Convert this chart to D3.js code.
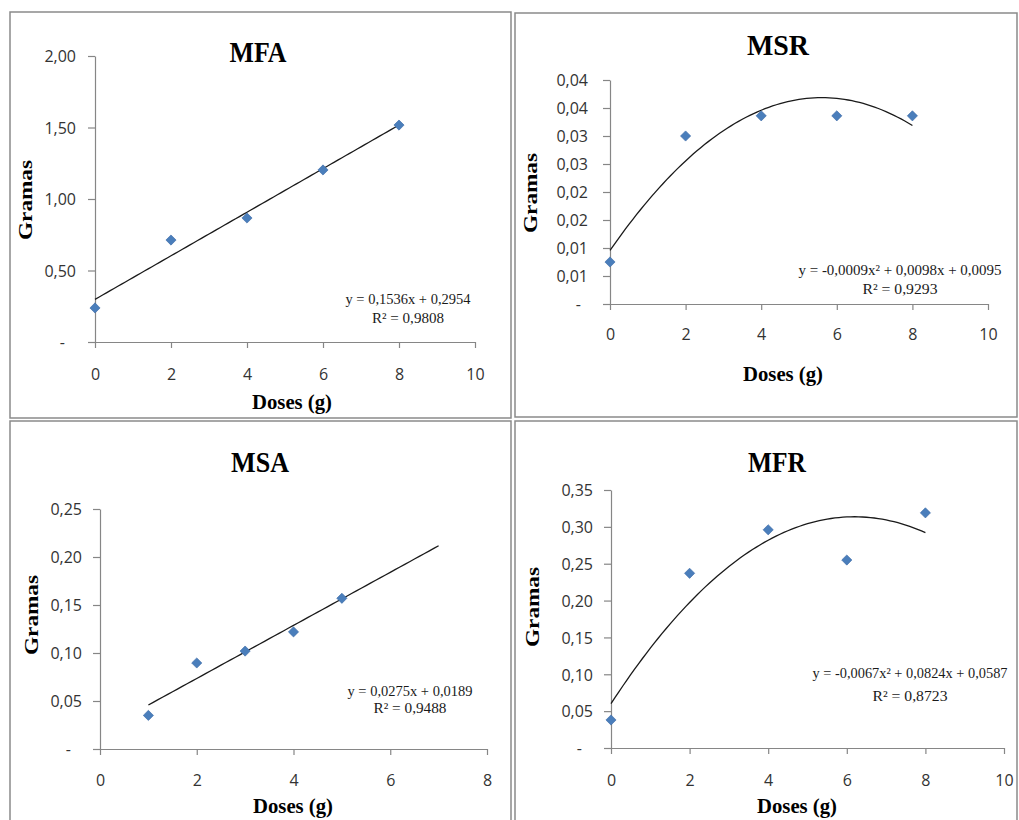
<!DOCTYPE html>
<html>
<head>
<meta charset="utf-8">
<script src="https://cdn.jsdelivr.net/npm/d3@7"></script>
<style>
body{margin:0;background:#fff;}
svg{display:block;}
</style>
</head>
<body>
<div class="graphContainer"></div>
<script>
const w = 1019;
const h = 820;

// data
const doses = [0, 2, 4, 6, 8];
const dosesMSA = [1, 2, 3, 4, 5];

const mfaValues = [0.238, 0.713, 0.867, 1.203, 1.517];
const msrValues = [0.0075, 0.030, 0.0336, 0.0336, 0.0336];
const msaValues = [0.035, 0.0896, 0.102, 0.122, 0.157];
const mfrValues = [0.038, 0.237, 0.296, 0.255, 0.319];

const xTicks10 = [0, 2, 4, 6, 8, 10];
const xTicks8 = [0, 2, 4, 6, 8];

const mfaYTicks = [0, 0.5, 1, 1.5, 2];
const mfaYLabels = ["-", "0,50", "1,00", "1,50", "2,00"];
const msrYTicks = [0, 0.005, 0.01, 0.015, 0.02, 0.025, 0.03, 0.035, 0.04];
const msrYLabels = ["-", "0,01", "0,01", "0,02", "0,02", "0,03", "0,03", "0,04", "0,04"];
const msaYTicks = [0, 0.05, 0.1, 0.15, 0.2, 0.25];
const msaYLabels = ["-", "0,05", "0,10", "0,15", "0,20", "0,25"];
const mfrYTicks = [0, 0.05, 0.1, 0.15, 0.2, 0.25, 0.3, 0.35];
const mfrYLabels = ["-", "0,05", "0,10", "0,15", "0,20", "0,25", "0,30", "0,35"];

const mfaEquation = ["y = 0,1536x + 0,2954", "R² = 0,9808"];
const msrEquation = ["y = -0,0009x² + 0,0098x + 0,0095", "R² = 0,9293"];
const msaEquation = ["y = 0,0275x + 0,0189", "R² = 0,9488"];
const mfrEquation = ["y = -0,0067x² + 0,0824x + 0,0587", "R² = 0,8723"];

const titles = ["MFA", "MSR", "MSA", "MFR"];

// panels: data + where each one sits on the page
const panels = [
	{title: titles[0], xs: doses, ys: mfaValues, deg: 1, trend: [0, 8],
	 xDom: [0, 10], xTicks: xTicks10, yDom: [0, 2], yTicks: mfaYTicks, yLabels: mfaYLabels, eq: mfaEquation,
	 box: [10, 12, 501, 406], xr: [95, 475], yr: [342, 56], titleAt: [258, 62, 57],
	 ylab: [26, 200], xlab: [292, 409], xTickBase: 380, yLabOff: 19, dashOff: 11,
	 eqAt: [408, 304, 323], eqW: [125, 72]},
	{title: titles[1], xs: doses, ys: msrValues, deg: 2, trend: [0, 8],
	 xDom: [0, 10], xTicks: xTicks10, yDom: [0, 0.04], yTicks: msrYTicks, yLabels: msrYLabels, eq: msrEquation,
	 box: [515, 13, 502, 404], xr: [610, 988], yr: [304, 80], titleAt: [778, 55, 62],
	 ylab: [531, 193], xlab: [783, 381], xTickBase: 340, yLabOff: 22, dashOff: 7,
	 eqAt: [900, 275, 294], eqW: [203, 75]},
	{title: titles[2], xs: dosesMSA, ys: msaValues, deg: 1, trend: [1, 7],
	 xDom: [0, 8], xTicks: xTicks8, yDom: [0, 0.25], yTicks: msaYTicks, yLabels: msaYLabels, eq: msaEquation,
	 box: [10, 421, 501, 410], xr: [100, 487], yr: [749, 509], titleAt: [260, 472, 58],
	 ylab: [32, 615], xlab: [293, 813], xTickBase: 786, yLabOff: 18, dashOff: 11,
	 eqAt: [410, 696, 713], eqW: [125, 73]},
	{title: titles[3], xs: doses, ys: mfrValues, deg: 2, trend: [0, 8],
	 xDom: [0, 10], xTicks: xTicks10, yDom: [0, 0.35], yTicks: mfrYTicks, yLabels: mfrYLabels, eq: mfrEquation,
	 box: [515, 421, 502, 410], xr: [611, 1004], yr: [748, 490], titleAt: [777, 472, 58],
	 ylab: [533, 607], xlab: [797, 813], xTickBase: 786, yLabOff: 18, dashOff: 11,
	 eqAt: [910, 678, 701], eqW: [195, 75]}
];

//least squares polynomial fit (what the excel trendline does)
function polyFit(xs, ys, deg) {
	const n = deg + 1;
	const A = [];
	for (let r = 0; r < n; r++) {
		A.push([]);
		for (let c = 0; c < n; c++) A[r].push(d3.sum(xs, x => Math.pow(x, r + c)));
		A[r].push(d3.sum(xs, (x, i) => Math.pow(x, r) * ys[i]));
	}
	for (let i = 0; i < n; i++) {
		for (let k = i + 1; k < n; k++) {
			const f = A[k][i] / A[i][i];
			for (let j = i; j <= n; j++) A[k][j] -= f * A[i][j];
		}
	}
	const coef = new Array(n).fill(0);
	for (let i = n - 1; i >= 0; i--) {
		let s = A[i][n];
		for (let j = i + 1; j < n; j++) s -= A[i][j] * coef[j];
		coef[i] = s / A[i][i];
	}
	return x => d3.sum(coef, (c, i) => c * Math.pow(x, i));
}

const svg = d3.select(".graphContainer").append("svg")
				.attr("width", w)
				.attr("height", h)
				.style("background", "#fff");

const axisColor = "#868686";
const labelColor = "#333";

panels.forEach(p => {
	const g = svg.append("g");

	//panel frame
	g.append("rect")
		.attr("x", p.box[0]).attr("y", p.box[1])
		.attr("width", p.box[2]).attr("height", p.box[3])
		.attr("fill", "none")
		.attr("stroke", "#8a8a8a")
		.attr("stroke-width", 1.5);

	const x = d3.scaleLinear().domain(p.xDom).range(p.xr);
	const y = d3.scaleLinear().domain(p.yDom).range(p.yr);

	//y axis
	const yAxis = g.append("g")
		.attr("transform", `translate(${p.xr[0]},0)`)
		.call(d3.axisLeft(y).tickValues(p.yTicks).tickSize(7).tickSizeOuter(0)
			.tickFormat((d, i) => p.yLabels[i]));
	yAxis.selectAll("text")
		.attr("x", (d) => d === 0 ? -p.yLabOff - p.dashOff : -p.yLabOff)
		.attr("dy", "0.36em");

	//x axis
	const xAxis = g.append("g")
		.attr("transform", `translate(0,${p.yr[0]})`)
		.call(d3.axisBottom(x).tickValues(p.xTicks).tickSize(6).tickSizeOuter(0)
			.tickFormat(d3.format("d")));
	xAxis.selectAll("text")
		.attr("y", p.xTickBase - p.yr[0])
		.attr("dy", 0);

	g.selectAll(".domain, .tick line").attr("stroke", axisColor).attr("stroke-width", 1.2);
	g.selectAll(".tick text")
		.attr("fill", labelColor)
		.style("font-family", "'Open Sans', sans-serif")
		.style("font-size", "16px");

	//trendline
	const fit = polyFit(p.xs, p.ys, p.deg);
	const steps = d3.range(p.trend[0], p.trend[1] + 0.001, 0.1);
	g.append("path")
		.datum(steps)
		.attr("fill", "none")
		.attr("stroke", "#1a1a1a")
		.attr("stroke-width", 1.3)
		.attr("d", d3.line().x(d => x(d)).y(d => y(fit(d))));

	//points
	g.selectAll(".pt")
		.data(p.xs)
		.enter()
		.append("path")
		.attr("class", "pt")
		.attr("transform", (d, i) => `translate(${x(d)},${y(p.ys[i])}) rotate(45)`)
		.attr("d", d3.symbol().type(d3.symbolSquare).size(52))
		.attr("fill", "#4a7ebb")
		.attr("stroke", "#3c6aa6")
		.attr("stroke-width", 0.6);

	//titles and axis names
	g.append("text")
		.attr("x", p.titleAt[0]).attr("y", p.titleAt[1])
		.attr("text-anchor", "middle")
		.attr("textLength", p.titleAt[2])
		.attr("lengthAdjust", "spacingAndGlyphs")
		.style("font-family", "'Liberation Serif', serif")
		.style("font-weight", "bold")
		.style("font-size", "29px")
		.text(p.title);

	g.append("text")
		.attr("transform", `translate(${p.ylab[0] + 6},${p.ylab[1]}) rotate(-90)`)
		.attr("text-anchor", "middle")
		.attr("textLength", 80)
		.attr("lengthAdjust", "spacingAndGlyphs")
		.style("font-family", "'Liberation Serif', serif")
		.style("font-weight", "bold")
		.style("font-size", "19px")
		.text("Gramas");

	g.append("text")
		.attr("x", p.xlab[0]).attr("y", p.xlab[1])
		.attr("text-anchor", "middle")
		.attr("textLength", 80)
		.attr("lengthAdjust", "spacingAndGlyphs")
		.style("font-family", "'Liberation Serif', serif")
		.style("font-weight", "bold")
		.style("font-size", "22px")
		.text("Doses (g)");

	//equation + r squared
	p.eq.forEach((t, i) => {
		g.append("text")
			.attr("x", p.eqAt[0]).attr("y", p.eqAt[i + 1])
			.attr("text-anchor", "middle")
			.attr("textLength", p.eqW[i])
			.attr("lengthAdjust", "spacingAndGlyphs")
			.attr("fill", "#1a1a1a")
			.style("font-family", "'Liberation Serif', serif")
			.style("font-size", "15px")
			.text(t);
	});
});
</script>
</body>
</html>
